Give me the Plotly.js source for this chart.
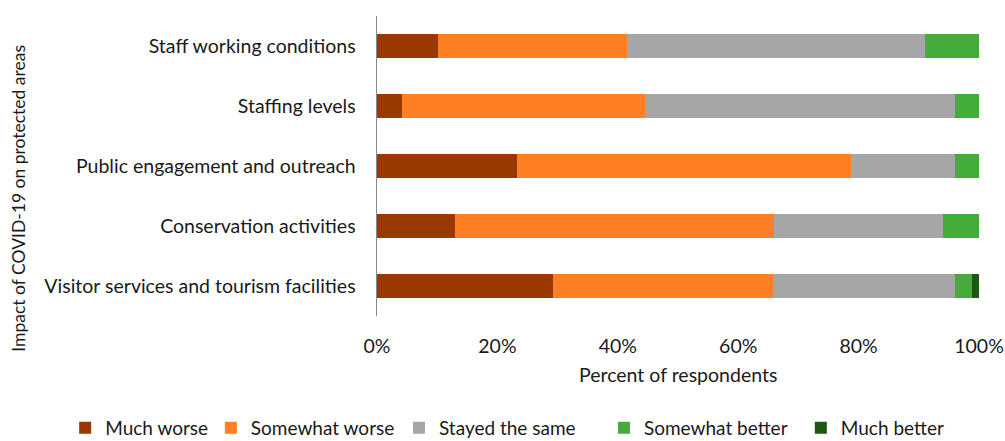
<!DOCTYPE html>
<html>
<head>
<meta charset="utf-8">
<script src="https://cdn.plot.ly/plotly-3.0.1.min.js"></script>
<style>html,body{margin:0;padding:0;background:#fff;}#chart{width:1005px;height:441px;}</style>
</head>
<body>
<div id="chart"></div>
<script>
const categories = [
  "Staff working conditions",
  "Staffing levels",
  "Public engagement and outreach",
  "Conservation activities",
  "Visitor services and tourism facilities"
];
const seriesNames = ["Much worse", "Somewhat worse", "Stayed the same", "Somewhat better", "Much better"];
const muchWorse      = [10.1, 4.1, 23.3, 13.0, 29.3];
const somewhatWorse  = [31.4, 40.4, 55.5, 53.0, 36.4];
const stayedSame     = [49.5, 51.5, 17.2, 28.1, 30.3];
const somewhatBetter = [9.0, 4.0, 4.0, 5.9, 2.9];
const muchBetter     = [0, 0, 0, 0, 1.1];
const xTickVals = [0, 20, 40, 60, 80, 100];
const xTickText = ["0%", "20%", "40%", "60%", "80%", "100%"];
const colors = ["#983a00", "#ff7f24", "#a6a6a6", "#44ad3a", "#1d5712"];

const values = [muchWorse, somewhatWorse, stayedSame, somewhatBetter, muchBetter];
const font = "Lato, 'Open Sans', sans-serif";
const txt = "#1a1a1a";
const legendIds = ["legend", "legend2", "legend3", "legend4", "legend5"];
const legendX = [-0.518, -0.276, 0.0365, 0.377, 0.704];

const traces = values.map((v, i) => ({
  type: "bar",
  orientation: "h",
  name: seriesNames[i],
  y: categories,
  x: v,
  legend: legendIds[i],
  marker: {color: colors[i], line: {width: 0}},
  hoverinfo: "name+x"
}));

const layout = {
  width: 1005, height: 441,
  margin: {l: 377, r: 26, t: 16, b: 125, autoexpand: false},
  barmode: "stack",
  bargap: 0.61,
  paper_bgcolor: "#fff", plot_bgcolor: "#fff",
  font: {family: font, color: txt, size: 19.5},
  xaxis: {
    range: [0, 100], tickvals: xTickVals, ticktext: xTickText,
    showgrid: false, zeroline: false, showline: false, ticks: "",
    ticklabelstandoff: 16,
    tickfont: {size: 19.5, family: font, color: txt}
  },
  yaxis: {
    type: "category", categoryarray: categories, categoryorder: "array",
    range: [4.5, -0.5], autorange: false,
    showgrid: false, zeroline: false, showline: true, linecolor: "#888", linewidth: 1.5,
    ticks: "", ticklabelstandoff: 16,
    tickfont: {size: 19.5, family: font, color: txt}
  },
  showlegend: true,
  annotations: [
    {text: "Percent of respondents", xref: "paper", yref: "paper", x: 0.5, y: -0.195,
     xanchor: "center", yanchor: "middle", showarrow: false, font: {size: 19.5, family: font, color: txt}},
    {text: "Impact of COVID-19 on protected areas", xref: "paper", yref: "paper", x: -0.597, y: 0.393,
     xanchor: "center", yanchor: "middle", textangle: -90, showarrow: false, font: {size: 17.5, family: font, color: txt}}
  ]
};

legendIds.forEach((id, i) => {
  layout[id] = {
    orientation: "h", x: legendX[i], xanchor: "left", y: -0.373, yanchor: "middle",
    font: {size: 19, family: font, color: txt},
    bgcolor: "rgba(0,0,0,0)", itemclick: false
  };
});

Plotly.newPlot("chart", traces, layout, {displayModeBar: false, staticPlot: true});
</script>
</body>
</html>
